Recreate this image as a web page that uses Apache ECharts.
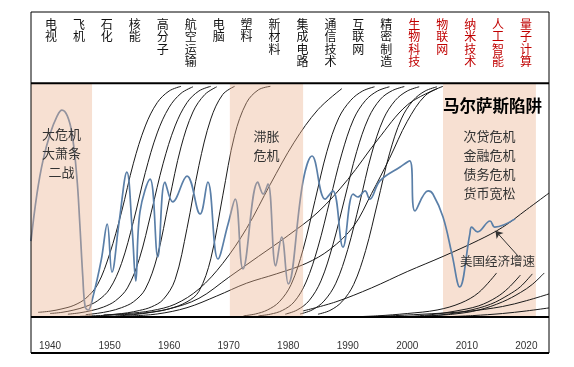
<!DOCTYPE html>
<html><head><meta charset="utf-8">
<script src="https://cdn.jsdelivr.net/npm/echarts@6/dist/echarts.min.js"></script>
<style>html,body{margin:0;padding:0;background:#fff}#c{width:574px;height:367px}</style>
</head><body><div id="c"></div>
<script>
// ---- data ----
const techs = ['电视','飞机','石化','核能','高分子','航空运输','电脑','塑料','新材料','集成电路','通信技术','互联网','精密制造','生物科技','物联网','纳米技术','人工智能','量子计算'];
const redTechs = ['生物科技','物联网','纳米技术','人工智能','量子计算'];
const xTicks = [1940,1950,1960,1970,1980,1990,2000,2010,2020];
const crisisPeriods = [[1936.8,1947.05],[1970.2,1982.5],[2006.0,2021.6]];
const crisisTexts = ['大危机\n大萧条\n二战','滞胀\n危机','次贷危机\n金融危机\n债务危机\n货币宽松'];
// US economic growth line (index scale 0-100)
const usGrowth = [[1936.8,32.6],[1937.8,52.8],[1938.8,67.0],[1940.0,78.5],[1941.2,86.3],[1942.0,88.8],[1942.9,86.3],[1943.7,78.5],[1944.5,60.1],[1945.0,39.9],[1945.5,17.2],[1945.9,4.3],[1946.4,3.0],[1947.2,8.6],[1948.6,24.5],[1949.6,39.9],[1950.4,19.3],[1951.6,40.8],[1952.9,62.2],[1953.8,37.3],[1954.4,15.5],[1955.1,45.1],[1956.8,59.2],[1958.1,25.8],[1959.3,57.9],[1960.6,49.4],[1963.0,60.5],[1965.2,44.2],[1966.5,57.9],[1968.2,24.9],[1969.9,39.9],[1971.1,50.6],[1972.4,20.6],[1974.9,57.9],[1975.8,52.8],[1976.6,57.1],[1977.9,21.9],[1978.9,34.3],[1980.0,14.2],[1982.5,58.4],[1984.0,69.1],[1986.2,50.6],[1987.5,54.1],[1989.2,30.0],[1990.9,52.8],[1991.7,51.5],[1992.9,54.1],[1993.7,50.6],[1995.4,58.4],[1998.8,64.4],[2000.4,67.0],[2001.3,45.5],[2003.5,54.1],[2004.3,52.8],[2006.0,42.9],[2007.5,27.0],[2008.8,12.9],[2010.5,35.6],[2010.8,38.6],[2011.8,36.5],[2013.9,41.2],[2014.7,38.6],[2018.1,42.1]];
// technology S-curves
const earlyCurves = [
  [[1938,2],[1940,2.5],[1942,3.5],[1944,5],[1946,8],[1948,14],[1950,27],[1952,45],[1954,66],[1956,82],[1958,92],[1960,97],[1962,99]],
  [[1940,1.5],[1942,2],[1944,3],[1946,4.5],[1948,7],[1950,12],[1952,23],[1954,41],[1956,62],[1958,79],[1960,90],[1962,96],[1964,98.8]],
  [[1943,1.2],[1945,1.8],[1947,2.8],[1949,4.3],[1951,7],[1953,12.5],[1955,25],[1957,45],[1959,66],[1961,82],[1963,92],[1965,97],[1967,99]],
  [[1946,1],[1948,1.6],[1950,2.5],[1952,4],[1954,6.5],[1956,12],[1958,26],[1960,50],[1962,73],[1964,88],[1966,95.5],[1968,98.8]],
  [[1949,0.8],[1951,1.2],[1953,1.8],[1955,2.8],[1957,4.3],[1959,7.5],[1961,16],[1963,38],[1965,65],[1967,85],[1969,95.5],[1971,99]],
  [[1951,0.4],[1954,1],[1957,2],[1960,3.5],[1963,6.5],[1965,11],[1967,25],[1969,52],[1971,78],[1973,92],[1975,97.5],[1977,99]],
  [[1949,0.8],[1953,1.5],[1957,2.7],[1961,5.5],[1965,12],[1969,23],[1973,38],[1977,57],[1981,75],[1985,89],[1989,98]],
  [[1945,0.3],[1950,0.8],[1955,1.5],[1960,3.5],[1965,8],[1970,17],[1975,26],[1980,35],[1985,45],[1990,59],[1995,76],[2000,91],[2005,98]],
  [[1953,0.4],[1958,1.3],[1963,4],[1968,9],[1973,14.5],[1978,18.5],[1983,23],[1987,29],[1991,39],[1994,53],[1997,68],[2000,84],[2003,95],[2006,99]]
];
const midCurves = [
  [[1972.5,0.5],[1974.5,1.3],[1976.5,3],[1978.5,6.5],[1980.5,14],[1982.5,29],[1984.5,50],[1986.5,71],[1988.5,85.5],[1990.5,93],[1992.5,97],[1994.5,98.8]],
  [[1975,0.5],[1977,1.2],[1979,2.8],[1981,6.5],[1983,15],[1985,30],[1987,50],[1989,70],[1991,85],[1993,93],[1995,97],[1997,98.8]],
  [[1979.5,1.2],[1981.5,3],[1983.5,7],[1985.5,15.5],[1987.5,31],[1989.5,51],[1991.5,71],[1993.5,85.5],[1995.5,93.5],[1997.5,97.2],[1999.5,98.9]],
  [[1982,1.3],[1984,3],[1986,6.8],[1988,14.5],[1990,29],[1992,49],[1994,70],[1996,85],[1998,93],[2000,97],[2002,98.8]],
  [[1985,1.2],[1987,2.8],[1989,6.5],[1991,14],[1993,28.5],[1995,49],[1997,70],[1999,85],[2001,93],[2003,97],[2005,98.8]]
];
const lateCurves = [
  [[1982.5,2.6],[1988,6.5],[1994,12.5],[2000,19.5],[2006,26],[2012,33],[2016,38.5],[2020,46],[2023.8,53.2]],
  [[1990,0],[1995,0.5],[2000,1.5],[2005,3],[2009,6],[2012,10.5],[2015,18.9]],
  [[1999,0],[2004,1],[2008,2.5],[2012,4.8],[2015,8.5],[2017,12.5],[2019,18]],
  [[2001,0],[2006,1],[2010,2.6],[2014,5.5],[2017,9.5],[2019,13],[2021,18.5]],
  [[2003,0.4],[2008,1.3],[2012,3],[2016,6.5],[2019,10.5],[2021,14],[2023,18.9]],
  [[1992,0],[1998,0.6],[2004,1.4],[2010,2.4],[2016,4.5],[2020,7],[2023.8,9.9]],
  [[2005.5,0],[2011,0.6],[2016,1.5],[2020,2.6],[2023.8,3.9]]
];
const arrowFrom = [2018.6, 26.2];
const arrowTo = [2014.8, 37.0];

// ---- chart ----
const CJK = '"Noto Sans CJK SC", "Noto Sans", sans-serif';
const chart = echarts.init(document.getElementById('c'), null, {renderer: 'canvas'});
const curveSeries = [].concat(earlyCurves, midCurves, lateCurves).map(pts => ({
  type: 'line', data: pts, xAxisIndex: 0, yAxisIndex: 0, smooth: 0.35,
  symbol: 'none', silent: true, z: 2,
  lineStyle: {color: '#1a1a1a', width: 1}
}));
const areaItem = (i, dist) => [
  {xAxis: crisisPeriods[i][0], name: crisisTexts[i], label: {distance: dist}},
  {xAxis: crisisPeriods[i][1]}
];
const areaLabel = {show: true, position: 'insideTop', fontSize: 13, lineHeight: 19, color: '#333', fontFamily: CJK};
const option = {
  animation: false,
  backgroundColor: '#fff',
  grid: [
    {left: 31, right: 25, top: 84, bottom: 50},
    {left: 37, right: 34, top: 12, height: 6}
  ],
  xAxis: [
    {type: 'value', gridIndex: 0, min: 1936.8, max: 2023.8,
     axisLine: {show: false}, axisTick: {show: false}, splitLine: {show: false},
     axisLabel: {customValues: xTicks, formatter: v => String(v), margin: 24, fontSize: 10, color: '#333', fontFamily: '"Liberation Sans", sans-serif'}},
    {type: 'category', gridIndex: 1, data: techs, position: 'bottom',
     axisLine: {show: false}, axisTick: {show: false},
     axisLabel: {interval: 0, margin: 0, verticalAlign: 'top', fontSize: 12, lineHeight: 12.5, fontFamily: CJK,
       formatter: v => v.split('').join('\n'),
       color: (v) => redTechs.indexOf(v) >= 0 ? '#C00000' : '#111'}}
  ],
  yAxis: [
    {type: 'value', gridIndex: 0, min: 0, max: 100, show: false},
    {type: 'value', gridIndex: 1, show: false}
  ],
  series: [
    {type: 'line', data: [], silent: true, z: 1,
     markArea: {silent: true, itemStyle: {color: 'rgba(247,224,210,1)'}, label: areaLabel,
       data: [areaItem(2, 43)]}},
    ...curveSeries,
    {type: 'line', data: usGrowth, smooth: 0.4, symbol: 'none', silent: true, z: 3,
     lineStyle: {color: '#5a7fa8', width: 1.7},
     markLine: {silent: true, symbol: ['none', 'arrow'], symbolSize: 7, label: {show: false},
       lineStyle: {color: '#333', width: 1, type: 'solid'},
       data: [[{coord: arrowFrom}, {coord: arrowTo}]]}},
    {type: 'line', data: [], silent: true, z: 5, zlevel: 1,
     markArea: {silent: true, z: 5, zlevel: 1, itemStyle: {color: 'rgba(235,178,143,0.4)'}, label: areaLabel,
       data: [areaItem(0, 41), areaItem(1, 43)]}}
  ],
  graphic: [
    {type: 'rect', zlevel: 2, z: 100, shape: {x: 31, y: 12, width: 518, height: 341}, style: {fill: 'none', stroke: '#000', lineWidth: 1}},
    {type: 'line', zlevel: 2, z: 100, shape: {x1: 31, y1: 83.3, x2: 549, y2: 83.3}, style: {stroke: '#000', lineWidth: 2}},
    {type: 'line', zlevel: 2, z: 100, shape: {x1: 31, y1: 317, x2: 549, y2: 317}, style: {stroke: '#000', lineWidth: 2}},
    {type: 'line', zlevel: 2, z: 100, shape: {x1: 31, y1: 353, x2: 549, y2: 353}, style: {stroke: '#000', lineWidth: 2}},
    {type: 'text', zlevel: 2, z: 100, left: 443, top: 97, style: {text: '马尔萨斯陷阱', font: 'bold 16.5px ' + CJK, fill: '#000'}},
    {type: 'text', zlevel: 2, z: 100, left: 460, top: 255, style: {text: '美国经济增速', font: '12.5px ' + CJK, fill: '#333'}}
  ]
};
chart.setOption(option);
</script>
</body></html>
